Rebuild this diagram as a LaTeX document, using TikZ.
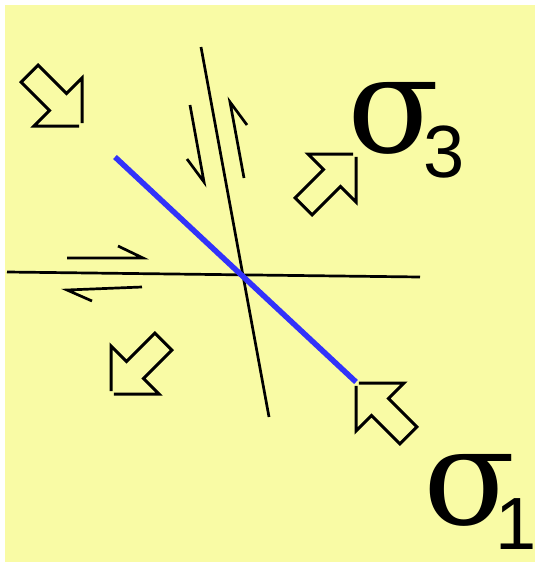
\documentclass[tikz,border=0pt]{standalone}
\usepackage{fontspec}
\setmainfont{Liberation Sans}
\newfontfamily\greekfont{DejaVu Serif}
\newcommand\subfont{\normalfont\fontsize{74}{74}\selectfont}
\usetikzlibrary{positioning}
\definecolor{paper}{RGB}{249,251,165}
\definecolor{plane}{RGB}{50,50,250}

\tikzset{
  outline/.style={line width=3pt},
  stressarrow/.pic={
    \draw[outline] (-2,2) -- (-34,34) -- (-34,12) -- (-74,12) -- (-74,-12) -- (-34,-12) -- (-34,-34) -- (-2,-2);
  },
  sigmalabel/.style={anchor=base west, inner sep=0pt, font=\greekfont\fontsize{135}{135}\selectfont}
}

\begin{document}
\begin{tikzpicture}[x=1pt, y=-1pt,
  fault/.style={line width=2.7pt},
  slip/.style={line width=2.7pt}]
\useasboundingbox (0,0) rectangle (535,562);
\fill[paper] (5,5) rectangle (535,562);
% faults and plane
\coordinate (f1a) at (201,47);
\coordinate (f1b) at (269,417);
\coordinate (f2a) at (7,272);
\coordinate (f2b) at (420,277);
\coordinate (pa) at (115,157);
\coordinate (pb) at (356,382);
\draw[fault] (f1a) -- (f1b);
\draw[fault] (f2a) -- (f2b);
\draw[plane, line width=5.5pt] (pa) -- (pb);
% slip sense
\draw[slip] (190,105) -- (204,182) -- (187,159);
\draw[slip] (244,178) -- (230,102) -- (247,125);
\draw[slip] (67,258) -- (143,258) -- (118,246);
\draw[slip] (142,287) -- (67,290) -- (92,301);
% stress arrows
\pic[rotate=-45] at (82,126) {stressarrow};
\pic[rotate=45] at (356,154) {stressarrow};
\pic[rotate=225] at (111,394) {stressarrow};
\pic[rotate=135] at (356,383) {stressarrow};
% labels
\node[sigmalabel] (sig3) at (347,152) {\rlap{\kern76pt\raisebox{-25pt}{\subfont 3}}σ};
\node[sigmalabel] (sig1) at (423,524) {\rlap{\kern72pt\raisebox{-25pt}{\subfont 1}}σ};
\end{tikzpicture}
\end{document}
